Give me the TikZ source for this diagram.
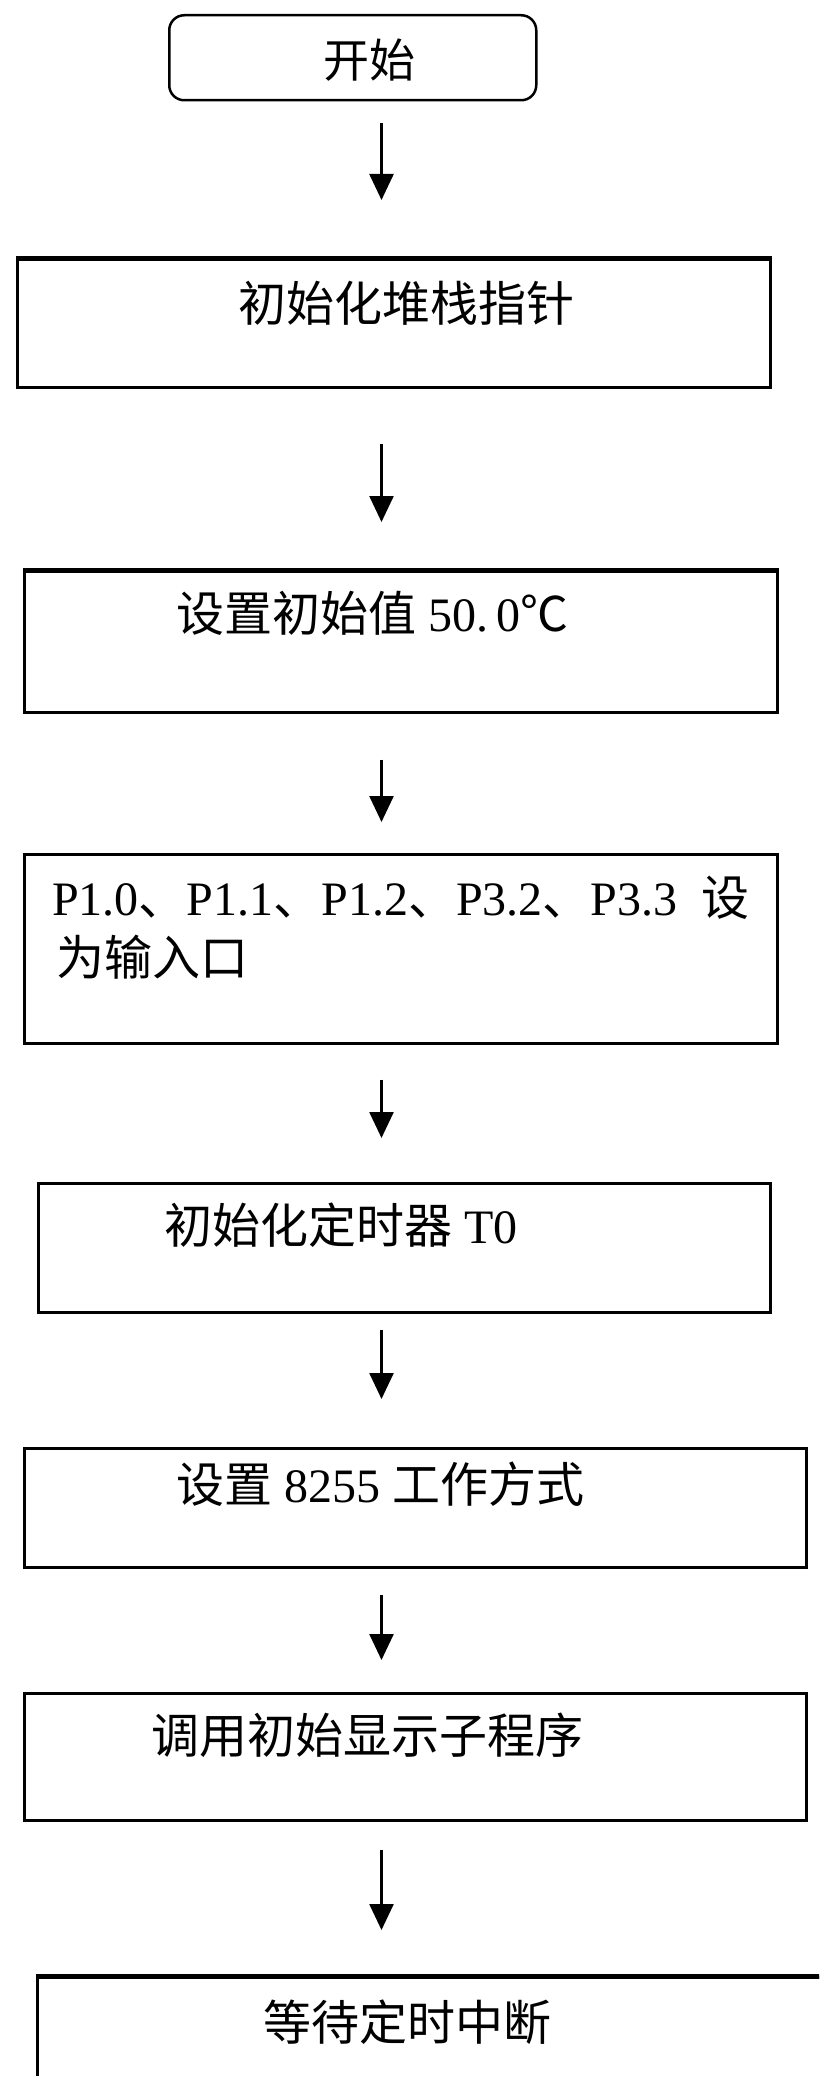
\documentclass[tikz,border=0pt]{standalone}
\usepackage{fontspec}
\setmainfont{Liberation Serif}
\newfontfamily\cjk{Noto Sans CJK SC}
\usetikzlibrary{arrows.meta}
\begin{document}
\begin{tikzpicture}[x=1pt,y=-1pt,
  box/.style={draw=black,line width=2.5pt,rectangle,inner sep=0pt,anchor=north west},
  thicktop/.style={line width=5pt},
  txt/.style={anchor=base west,inner sep=0pt,font=\fontsize{48}{58}\selectfont},
  arr/.style={draw=black,line width=2.5pt,-{Triangle[length=26pt,width=24pt]}},
]
\useasboundingbox (0,0) rectangle (819,2076);
\clip (0,0) rectangle (819,2076);
\fill[white] (0,0) rectangle (819,2076);
\coordinate (ax) at (381.5,0);

% boxes
\node[box,rounded corners=15pt,minimum width=367pt,minimum height=85pt] (start) at (168,14) {};
\node[box,minimum width=753pt,minimum height=127pt] (b2) at (16,259) {};
\node[box,minimum width=753pt,minimum height=141pt] (b3) at (23,570) {};
\node[box,minimum width=753pt,minimum height=189pt] (b4) at (23,853) {};
\node[box,minimum width=732pt,minimum height=129pt] (b5) at (37,1182) {};
\node[box,minimum width=782pt,minimum height=119pt] (b6) at (23,1447) {};
\node[box,minimum width=782pt,minimum height=127pt] (b7) at (23,1692) {};
\node[box,minimum width=900pt,minimum height=300pt] (b8) at (36,1976) {};

% thick top borders
\draw[thicktop] (b2.north west) -- (b2.north east);
\draw[thicktop] (b3.north west) -- (b3.north east);
\draw[thicktop] (b8.north west) -- (b8.north east);

% texts
\node[txt,font=\fontsize{46}{56}\selectfont] (t1) at (323,78) {\cjk 开始};
\node[txt] (t2) at (238,321) {\cjk 初始化堆栈指针};
\node[txt] (t3) at (176,631) {{\cjk 设置初始值} 50.{\fontsize{32}{32}\selectfont\ }0{\cjk ℃}};
\node[txt] (t4a) at (52,915) {P1.0{\cjk 、}P1.1{\cjk 、}P1.2{\cjk 、}P3.2{\cjk 、}P3.3\ \ {\cjk 设}};
\node[txt] (t4b) at (56,975) {\cjk 为输入口};
\node[txt] (t5) at (164,1243) {{\cjk 初始化定时器} T0};
\node[txt] (t6) at (176,1502) {{\cjk 设置} 8255 {\cjk 工作方式}};
\node[txt] (t7) at (151,1753) {\cjk 调用初始显示子程序};
\node[txt] (t8) at (263,2040) {\cjk 等待定时中断};

% arrows
\draw[arr,shorten <=22pt,shorten >=59pt] (start.south -| ax) -- (b2.north -| ax);
\draw[arr,shorten <=55pt,shorten >=48pt] (b2.south -| ax) -- (b3.north -| ax);
\draw[arr,shorten <=46pt,shorten >=31pt] (b3.south -| ax) -- (b4.north -| ax);
\draw[arr,shorten <=35pt,shorten >=44pt] (b4.south -| ax) -- (b5.north -| ax);
\draw[arr,shorten <=16pt,shorten >=48pt] (b5.south -| ax) -- (b6.north -| ax);
\draw[arr,shorten <=26pt,shorten >=32pt] (b6.south -| ax) -- (b7.north -| ax);
\draw[arr,shorten <=28pt,shorten >=46pt] (b7.south -| ax) -- (b8.north -| ax);
\end{tikzpicture}
\end{document}
